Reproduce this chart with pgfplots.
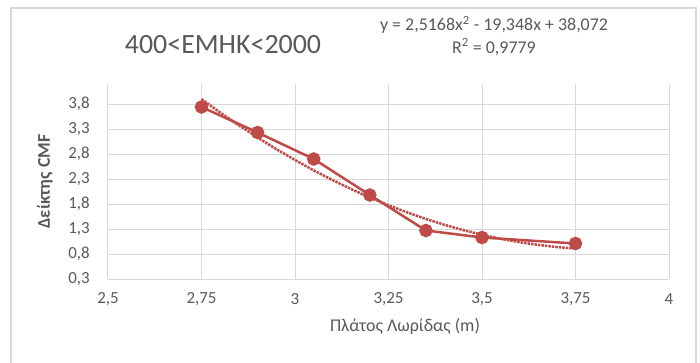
\documentclass[border=0pt]{standalone}
\usepackage{fontspec}
\setmainfont{Carlito}
\usepackage{pgfplots}
\pgfplotsset{compat=1.18}
\definecolor{exred}{RGB}{190,75,72}
\definecolor{gridgray}{RGB}{217,217,217}
\definecolor{txtgray}{RGB}{89,89,89}
\begin{document}
\begin{tikzpicture}
\path[use as bounding box] (-108bp,-84bp) rectangle (592bp,279bp);
\draw[gridgray, line width=1.5bp] (-97bp,-84bp) -- (-97bp,271bp) -- (588bp,271bp) -- (588bp,-84bp);
\begin{axis}[
  at={(0,0)}, anchor=south west,
  scale only axis, width=561bp, height=195bp,
  xmin=2.5, xmax=4, ymin=0.3, ymax=4.2,
  xtick={2.5,2.75,3,3.25,3.5,3.75,4},
  xticklabels={{2,5},{2,75},{3},{3,25},{3,5},{3,75},{4}},
  ytick={0.3,0.8,1.3,1.8,2.3,2.8,3.3,3.8},
  yticklabels={{0,3},{0,8},{1,3},{1,8},{2,3},{2,8},{3,3},{3,8}},
  grid=major, major grid style={gridgray, line width=1bp},
  axis line style={gridgray, line width=1bp},
  axis x line*=bottom, axis y line*=left,
  tick style={draw=none},
  tick label style={font=\fontsize{17}{20}\selectfont, text=txtgray},
  xticklabel style={anchor=center, yshift=-20bp},
  yticklabel style={anchor=east, inner sep=0pt, xshift=-18bp},
  clip=false,
]
\addplot[exred, line width=2.5bp, densely dotted] coordinates {
(2.75,3.8983) (2.80,3.6293) (2.85,3.3729) (2.90,3.1291) (2.95,2.8979)
(3.00,2.6792) (3.05,2.4731) (3.10,2.2796) (3.15,2.0987) (3.20,1.9304)
(3.25,1.7747) (3.30,1.6316) (3.35,1.5010) (3.40,1.3830) (3.45,1.2776)
(3.50,1.1848) (3.55,1.1046) (3.60,1.0369) (3.65,0.9819) (3.70,0.9394)
(3.75,0.9094)};
\addplot[exred, line width=2.5bp, mark=*, mark size=5.5bp, mark options={solid, fill=exred}] coordinates {
(2.75,3.74) (2.90,3.23) (3.05,2.70) (3.20,1.98) (3.35,1.27) (3.50,1.13) (3.75,1.01)};
\end{axis}
\node[anchor=center, text=txtgray, font=\fontsize{18}{21}\selectfont] at (297bp,-47bp) {Πλάτος Λωρίδας (m)};
\node[anchor=center, rotate=90, text=txtgray, font=\fontsize{18}{21}\selectfont\bfseries] at (-63bp,97.5bp) {Δείκτης CMF};
\node[anchor=center, text=txtgray, font=\fontsize{28}{32}\selectfont] at (115bp,234bp) {400<EMHK<2000};
\node[anchor=center, text=txtgray, font=\fontsize{18}{21}\selectfont] at (386bp,254bp) {y = 2,5168x\textsuperscript{2} - 19,348x + 38,072};
\node[anchor=center, text=txtgray, font=\fontsize{18}{21}\selectfont] at (386bp,232bp) {R\textsuperscript{2} = 0,9779};
\end{tikzpicture}
\end{document}
